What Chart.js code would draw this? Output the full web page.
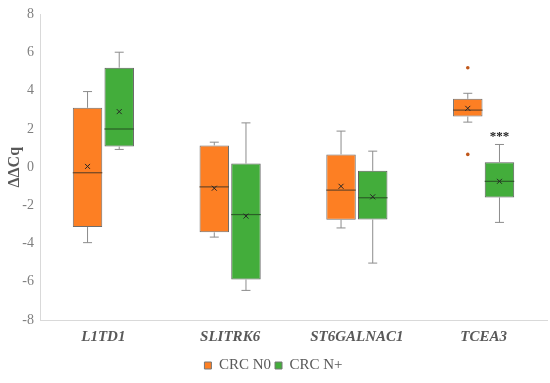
<!DOCTYPE html>
<html>
<head>
<meta charset="utf-8">
<script src="https://cdn.jsdelivr.net/npm/chart.js@4"></script>
<style>
  html, body { margin: 0; padding: 0; background: #fff; }
  #wrap { width: 550px; height: 383px; }
</style>
</head>
<body>
<div id="wrap"><canvas id="chartBox"></canvas></div>
<script>
var categories = ['L1TD1', 'SLITRK6', 'ST6GALNAC1', 'TCEA3'];
var seriesNames = ['CRC N0', 'CRC N+'];
var yTicks = [-8, -6, -4, -2, 0, 2, 4, 6, 8];

// CRC N0
var n0Min = [-3.95, -3.66, -3.18, 2.36];
var n0Q1 = [-3.13, -3.41, -2.75, 2.65];
var n0Median = [-0.29, -1.03, -1.2, 2.99];
var n0Q3 = [3.11, 1.14, 0.67, 3.58];
var n0Max = [3.96, 1.31, 1.89, 3.87];
var n0Mean = [0.04, -1.1, -1.0, 3.08];
var n0Outliers = [[], [], [], [5.21, 0.67]];
var n0Signif = ['', '', '', ''];

// CRC N+
var npMin = [0.93, -6.45, -5.02, -2.89];
var npQ1 = [1.08, -5.88, -2.74, -1.58];
var npMedian = [2.0, -2.48, -1.6, -0.74];
var npQ3 = [5.21, 0.19, -0.19, 0.26];
var npMax = [6.02, 2.32, 0.84, 1.19];
var npMean = [2.91, -2.56, -1.55, -0.74];
var npOutliers = [[], [], [], []];
var npSignif = ['', '', '', '***'];

var boxStats = [
     { min: n0Min, q1: n0Q1, median: n0Median, q3: n0Q3, max: n0Max, mean: n0Mean, outliers: n0Outliers, signif: n0Signif, medianColor: '#6b4526' },
     { min: npMin, q1: npQ1, median: npMedian, q3: npQ3, max: npMax, mean: npMean, outliers: npOutliers, signif: npSignif, medianColor: '#2b5e27' }
];

var serif = "'Liberation Serif', 'DejaVu Serif', serif";

var boxPlugin = {
     id: 'boxExtras',
     afterDatasetsDraw: function (chart) {
          var ctx = chart.ctx;
          var y = chart.scales.y;
          ctx.save();
          boxStats.forEach(function (s, i) {
               var meta = chart.getDatasetMeta(i);
               meta.data.forEach(function (bar, j) {
                    var x = bar.x, w = bar.width;
                    // whiskers
                    ctx.strokeStyle = '#8c8c8c';
                    ctx.lineWidth = 1;
                    ctx.beginPath();
                    ctx.moveTo(x, y.getPixelForValue(s.q3[j]));
                    ctx.lineTo(x, y.getPixelForValue(s.max[j]));
                    ctx.moveTo(x - 4.5, y.getPixelForValue(s.max[j]));
                    ctx.lineTo(x + 4.5, y.getPixelForValue(s.max[j]));
                    ctx.moveTo(x, y.getPixelForValue(s.q1[j]));
                    ctx.lineTo(x, y.getPixelForValue(s.min[j]));
                    ctx.moveTo(x - 4.5, y.getPixelForValue(s.min[j]));
                    ctx.lineTo(x + 4.5, y.getPixelForValue(s.min[j]));
                    ctx.stroke();
                    // median
                    ctx.strokeStyle = s.medianColor;
                    ctx.lineWidth = 1.2;
                    ctx.beginPath();
                    ctx.moveTo(x - w / 2, y.getPixelForValue(s.median[j]));
                    ctx.lineTo(x + w / 2, y.getPixelForValue(s.median[j]));
                    ctx.stroke();
                    // mean marker
                    var my = y.getPixelForValue(s.mean[j]);
                    ctx.strokeStyle = '#262626';
                    ctx.lineWidth = 1;
                    ctx.beginPath();
                    ctx.moveTo(x - 2.5, my - 2.5);
                    ctx.lineTo(x + 2.5, my + 2.5);
                    ctx.moveTo(x + 2.5, my - 2.5);
                    ctx.lineTo(x - 2.5, my + 2.5);
                    ctx.stroke();
                    // outliers
                    ctx.fillStyle = '#c0571a';
                    s.outliers[j].forEach(function (v) {
                         ctx.beginPath();
                         ctx.arc(x, y.getPixelForValue(v), 1.8, 0, Math.PI * 2);
                         ctx.fill();
                    });
                    // significance
                    if (s.signif[j]) {
                         ctx.fillStyle = '#222';
                         ctx.font = 'bold 13px ' + serif;
                         ctx.textAlign = 'center';
                         ctx.textBaseline = 'bottom';
                         ctx.fillText(s.signif[j], x, y.getPixelForValue(s.max[j]) - 1);
                    }
               });
          });
          ctx.restore();
     }
};

var config = {
     type: 'bar',
     data: {
          labels: categories,
          datasets: [{
               label: seriesNames[0],
               data: n0Q1.map(function (v, k) { return [v, n0Q3[k]]; }),
               backgroundColor: '#fd7f23',
               borderColor: '#6e6e6e',
               borderWidth: 1,
               borderSkipped: false
          }, {
               label: seriesNames[1],
               data: npQ1.map(function (v, k) { return [v, npQ3[k]]; }),
               backgroundColor: '#43ad3b',
               borderColor: '#5e5e5e',
               borderWidth: 1,
               borderSkipped: false
          }]
     },
     options: {
          responsive: true,
          maintainAspectRatio: false,
          animation: false,
          layout: { padding: { top: -4, right: 3, bottom: 0, left: 0 } },
          categoryPercentage: 0.5,
          barPercentage: 0.93,
          plugins: {
               tooltip: { enabled: false },
               legend: {
                    position: 'bottom',
                    labels: {
                         boxWidth: 7,
                         boxHeight: 7,
                         padding: 4,
                         color: '#595959',
                         font: { family: serif, size: 15 },
                         generateLabels: function (chart) {
                              return chart.data.datasets.map(function (d, i) {
                                   return {
                                        text: d.label,
                                        fillStyle: d.backgroundColor,
                                        strokeStyle: '#777',
                                        lineWidth: 1,
                                        fontColor: '#595959',
                                        datasetIndex: i
                                   };
                              });
                         }
                    }
               }
          },
          scales: {
               x: {
                    grid: { display: false },
                    border: { display: true, color: '#d9d9d9' },
                    ticks: {
                         color: '#595959',
                         padding: 0,
                         font: { family: serif, size: 15, weight: 'bold', style: 'italic' }
                    },
                    afterFit: function (scale) { scale.height = 34; }
               },
               y: {
                    min: yTicks[0],
                    max: yTicks[yTicks.length - 1],
                    afterBuildTicks: function (scale) {
                         scale.ticks = yTicks.map(function (v) { return { value: v }; });
                    },
                    grid: { display: false, drawTicks: false },
                    border: { display: true, color: '#d9d9d9' },
                    ticks: {
                         color: '#7f7f7f',
                         padding: 6,
                         font: { family: serif, size: 14 }
                    },
                    title: {
                         display: true,
                         text: 'ΔΔCq',
                         color: '#595959',
                         padding: { top: 5, bottom: 0 },
                         font: { family: serif, size: 16, weight: 'bold' }
                    },
                    afterFit: function (scale) { scale.width = 40; }
               }
          }
     },
     plugins: [boxPlugin]
};

window.onload = function () {
     var ctx = document.getElementById('chartBox').getContext('2d');
     window.myBox = new Chart(ctx, config);
};
</script>
</body>
</html>
